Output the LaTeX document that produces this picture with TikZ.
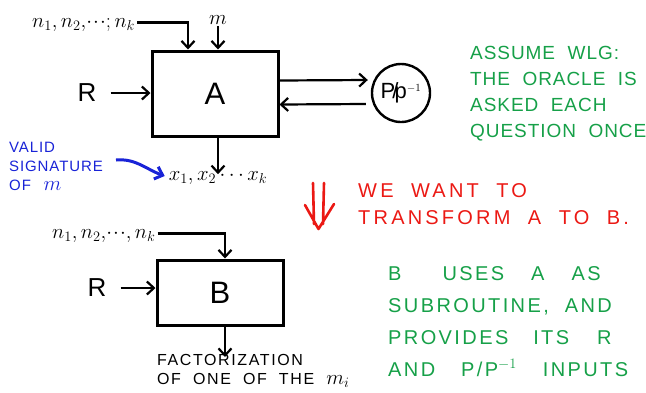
\documentclass[tikz,border=0pt]{standalone}
\usepackage{fontspec}
\usetikzlibrary{arrows.meta}
\newfontfamily\hand[LetterSpace=12,WordSpace=2]{Liberation Sans}
\definecolor{inkgreen}{RGB}{22,160,72}
\definecolor{inkred}{RGB}{235,25,20}
\definecolor{inkblue}{RGB}{25,35,215}
\tikzset{
  box/.style={draw, line width=3pt, inner sep=0pt},
  arr/.style={line width=2.2pt, -{Straight Barb[length=7pt,width=13pt]}},
  bluearr/.style={inkblue, line width=3pt, -{Straight Barb[length=7pt,width=13pt]}},
  lbl/.style={inner sep=0pt},
  bigletter/.style={font=\hand\fontsize{31}{31}\selectfont},
  rlabel/.style={inner sep=0pt, font=\hand\fontsize{26}{26}\selectfont},
  mathlbl/.style={inner sep=0pt, font=\fontsize{22}{22}\selectfont},
  note/.style={inner sep=0pt, align=left, anchor=north west},
}
\begin{document}
\begin{tikzpicture}[x=1pt,y=-1pt]
\useasboundingbox (0,0) rectangle (646,392);

% ---- algorithm A with its oracle ----
\node[box, bigletter, minimum width=126pt, minimum height=85pt] (A) at (215,93.5) {A};
\node[circle, draw, line width=2.4pt, minimum size=58pt, inner sep=0pt,
      font=\hand\addfontfeatures{LetterSpace=0}\fontsize{22}{22}\selectfont] (O) at (401,93)
      {P\kern-3pt/\kern-4pt p$^{\scriptscriptstyle -1}$};
\draw[arr] ([yshift=13pt]A.east) -- ([xshift=-3pt,yshift=13pt]O.west);
\draw[arr] ([xshift=-5pt,yshift=-11pt]O.west) -- ([yshift=-11pt]A.east);

\node[mathlbl, anchor=base west] (nA) at (32,27) {$n_1,n_2,\!\cdot\!\cdot\!\cdot;n_k$};
\draw[arr] ([xshift=2pt,yshift=2pt]nA.east) -| ([xshift=-27pt]A.north);
\node[mathlbl, anchor=base] (mA) at (218,24) {$m$};
\draw[arr] ([yshift=-2pt]mA.south) -- (mA.south |- A.north);

\node[rlabel] (RA) at (87,93) {R};
\draw[arr] ([xshift=14pt]RA.east) -- (RA.east -| A.west);

\node[lbl, font=\fontsize{22}{22}\selectfont] (xs) at (218,178) {$x_1,x_2\cdots x_k$};
\draw[arr] ([xshift=3pt]A.south) -- ([xshift=3pt,yshift=-3pt]A.south |- xs.north);

% ---- note on the signature ----
\node[note, inkblue, font=\hand\addfontfeatures{LetterSpace=6}\fontsize{15}{19}\selectfont] (sig) at (9,142)
  {VALID\\SIGNATURE\\OF \,{\fontsize{20}{20}\selectfont$m$}};
\draw[bluearr] (116,160) to[out=5,in=160] ([xshift=-4pt,yshift=2pt]xs.west);

% ---- the reduction ----
\draw[inkred, line width=2.6pt, line cap=round, line join=round]
  (313,183) -- (314,224) (324,183) -- (323,224)
  (305,205) -- (318.5,229) -- (334,204);
\node[note, inkred, font=\hand\addfontfeatures{LetterSpace=16}\fontsize{20}{27}\selectfont] (want) at (358,183)
  {WE WANT TO\\TRANSFORM A TO B.};

\node[note, inkgreen, font=\hand\addfontfeatures{LetterSpace=5}\fontsize{19}{26}\selectfont] (wlg) at (470,46)
  {ASSUME WLG:\\THE ORACLE IS\\ASKED EACH\\QUESTION ONCE};

% ---- algorithm B ----
\node[box, bigletter, minimum width=126pt, minimum height=65pt] (B) at (220,292.5) {B};

\node[mathlbl, anchor=base west] (nB) at (52,238) {$n_1,n_2,\!\cdot\!\cdot\!\cdot, n_k$};
\draw[arr] ([xshift=2pt,yshift=2pt]nB.east) -| ([xshift=5pt]B.north);

\node[rlabel] (RB) at (97,288) {R};
\draw[arr] ([xshift=14pt]RB.east) -- (RB.east -| B.west);

\node[note, font=\hand\addfontfeatures{LetterSpace=10}\fontsize{16}{20}\selectfont] (fac) at (157,354)
  {FACTORIZATION\\[-1pt]OF ONE OF THE {\fontsize{20}{20}\selectfont$m_i$}};
\draw[arr] ([xshift=5pt]B.south) -- ([xshift=5pt,yshift=-3pt]B.south |- fac.north);

\node[note, inkgreen, font=\hand\addfontfeatures{LetterSpace=12}\fontsize{20}{32}\selectfont] (uses) at (388,266)
  {B\hspace{41pt}USES\hspace{27pt}A\hspace{27pt}AS\\
   SUBROUTINE, AND\\
   PROVIDES \hspace{9pt}ITS \hspace{12pt}R\\
   AND \hspace{10pt}P/P$^{-1}$ \hspace{10pt}INPUTS};
\end{tikzpicture}
\end{document}
